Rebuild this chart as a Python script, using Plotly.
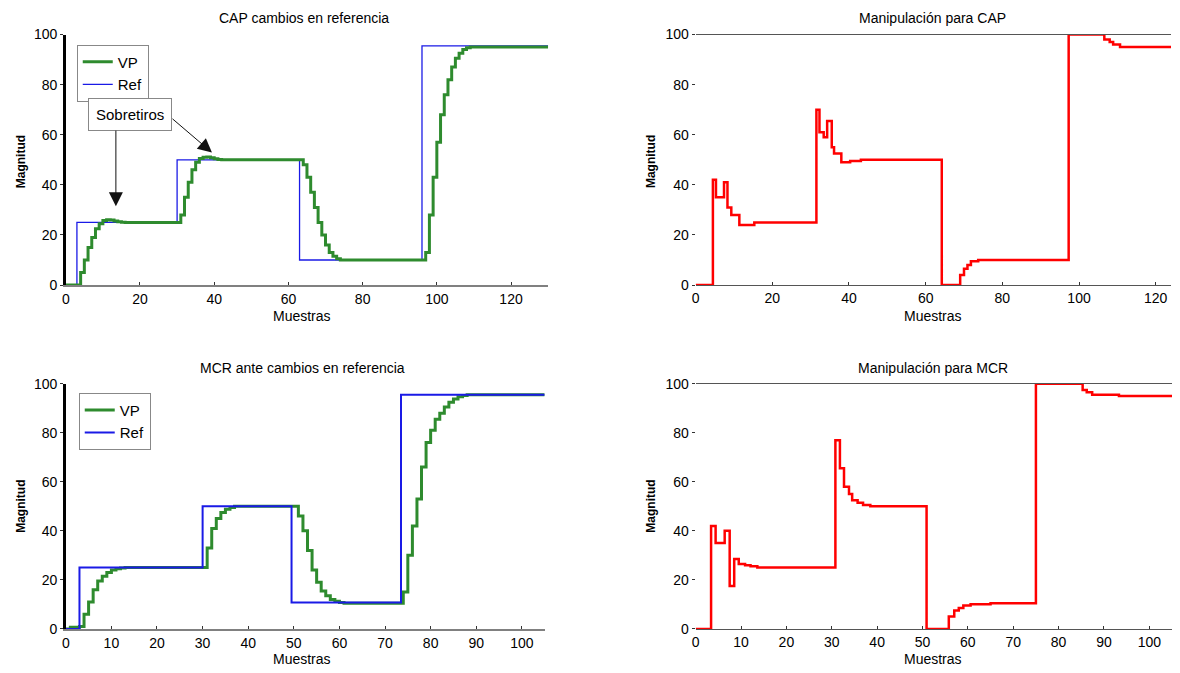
import plotly.graph_objects as go

# ---------------- data ----------------
# CAP: process variable (sample, value) change points
cap_vp_x = [0, 4, 5, 6, 7, 8, 9, 10, 11, 12, 13, 14, 15, 16, 31, 32, 33, 34, 35, 36, 37, 38, 39, 40, 41, 42,
            64, 65, 66, 67, 68, 69, 70, 71, 72, 73, 74, 97, 98, 99, 100, 101, 102, 103, 104, 105, 106, 107,
            108, 109, 130]
cap_vp_y = [0, 5, 10, 15, 19, 22.5, 24.5, 25.8, 26.1, 26, 25.6, 25.3, 25.1, 25, 28, 35, 41, 46, 49, 50.5, 51,
            51.1, 50.8, 50.4, 50.1, 50, 48, 43, 37, 31, 25, 20, 16, 13, 11.5, 10.5, 10, 13, 28, 43, 57, 68, 76,
            82, 87, 90.5, 92.5, 94, 94.7, 95, 95]
cap_ref_x = [0, 3, 30, 63, 96, 130]
cap_ref_y = [0, 25, 50, 10, 95.5, 95.5]

# CAP manipulated variable
cap_mv_x = [0, 4.5, 5.3, 7.4, 8.3, 9.3, 11.4, 15.3, 31.5, 32.3, 33.4, 34.3, 35.5, 36.1, 38, 40.3, 43.1,
            64.2, 69, 70, 70.9, 71.8, 73.7, 97.3, 106.6, 108, 108.9, 110.7, 124]
cap_mv_y = [0, 42, 35, 41, 31, 28, 24, 25, 70, 61, 59, 65.5, 55, 52.5, 49, 49.5, 50,
            0, 4, 6.5, 8, 9.5, 10, 100, 98, 97, 96, 95, 95]

# MCR: process variable
mcr_vp_x = [0, 1, 3, 4, 5, 6, 7, 8, 9, 10, 11, 12, 13, 31, 32, 33, 34, 35, 36, 37, 51, 52, 53, 54, 55, 56,
            57, 58, 59, 60, 61, 74, 75, 76, 77, 78, 79, 80, 81, 82, 83, 84, 85, 86, 87, 88, 105]
mcr_vp_y = [0, 0.7, 1, 6, 11, 16, 19.5, 21.5, 23, 24, 24.5, 24.8, 25, 33, 41, 45, 47.5, 48.8, 49.5, 50, 46,
            40, 32, 24, 19, 15.5, 13.5, 12, 11.3, 10.8, 10.5, 15, 30, 42, 53, 66, 76, 81, 85.5, 88, 90.5,
            92.5, 93.8, 94.7, 95.2, 95.5, 95.5]
mcr_ref_x = [0, 3, 30, 49.5, 73.5, 105]
mcr_ref_y = [0, 25, 50, 10.8, 95.5, 95.5]

# MCR manipulated variable
mcr_mv_x = [0, 3.4, 4.4, 6.4, 7.5, 8.5, 9.5, 10.9, 12.1, 13.6, 30.8, 31.8, 32.7, 33.8, 34.5, 35.7, 36.9,
            38.5, 50.9, 55.8, 57, 58, 59, 60.6, 65, 75, 85.3, 86.2, 87.4, 93.3, 105]
mcr_mv_y = [0, 42, 35, 40, 17.5, 28.5, 26.5, 26, 25.5, 25, 77, 65.5, 58, 55, 52.5, 51.5, 50.5,
            50, 0, 5, 7.5, 8.5, 9.5, 10, 10.5, 100, 97.5, 96.5, 95.5, 95, 95]

titles = ["CAP cambios en referencia", "Manipulación para CAP",
          "MCR ante cambios en referencia", "Manipulación para MCR"]
x_label = "Muestras"
y_label = "Magnitud"
annot_text = "Sobretiros"

# ---------------- figure ----------------
W, H = 1180, 673
FONT = "Liberation Sans, Arial, sans-serif"
GREEN = "#2e8b2e"
BLUE = "#1a1ae6"
RED = "#ff0000"

fig = go.Figure()

# top-left
fig.add_trace(go.Scatter(x=cap_ref_x, y=cap_ref_y, mode="lines", line=dict(color=BLUE, width=1.3, shape="hv"),
                         name="Ref", xaxis="x", yaxis="y", legend="legend", legendrank=2))
fig.add_trace(go.Scatter(x=cap_vp_x, y=cap_vp_y, mode="lines", line=dict(color=GREEN, width=3, shape="hv"),
                         name="VP", xaxis="x", yaxis="y", legend="legend", legendrank=1))
# top-right
fig.add_trace(go.Scatter(x=cap_mv_x, y=cap_mv_y, mode="lines", line=dict(color=RED, width=2.5, shape="hv"),
                         showlegend=False, xaxis="x2", yaxis="y2"))
# bottom-left
fig.add_trace(go.Scatter(x=mcr_vp_x, y=mcr_vp_y, mode="lines", line=dict(color=GREEN, width=3, shape="hv"),
                         name="VP", xaxis="x3", yaxis="y3", legend="legend2", legendrank=1))
fig.add_trace(go.Scatter(x=mcr_ref_x, y=mcr_ref_y, mode="lines", line=dict(color=BLUE, width=2, shape="hv"),
                         name="Ref", xaxis="x3", yaxis="y3", legend="legend2", legendrank=2))
# bottom-right
fig.add_trace(go.Scatter(x=mcr_mv_x, y=mcr_mv_y, mode="lines", line=dict(color=RED, width=2.5, shape="hv"),
                         showlegend=False, xaxis="x4", yaxis="y4"))

TLX = [62 / W, 546 / W]
TRX = [694 / W, 1171 / W]
BLX = [62 / W, 542.5 / W]
BRX = [694 / W, 1172 / W]
TY = [1 - 283.8 / H, 1 - 27.2 / H]
BY = [1 - 636 / H, 1 - 384.9 / H]

tickfont = dict(family=FONT, size=14, color="black")


def xax(domain, anchor, rng, dtick, left):
    d = dict(domain=domain, anchor=anchor, range=rng, dtick=dtick, tick0=0, showgrid=False, zeroline=False,
             ticks="inside", ticklen=3, tickcolor="#333", tickfont=tickfont, showline=True)
    if left:
        d.update(linecolor="#808080", linewidth=2)
    else:
        d.update(linecolor="#555", linewidth=1.3, mirror=True)
    return d


def yax(domain, anchor, left):
    d = dict(domain=domain, anchor=anchor, range=[0, 100], dtick=20, tick0=0, showgrid=False, zeroline=False,
             ticks="outside", ticklen=3, tickcolor="#333", tickfont=tickfont)
    if left:
        d.update(showline=True, linecolor="black", linewidth=2.5)
    else:
        d.update(showline=False)
    return d


annotations = []


def paper_text(text, px, py, size=14, angle=0):
    annotations.append(dict(text=text, x=px / W, y=1 - py / H, xref="paper", yref="paper",
                            showarrow=False, xanchor="center", yanchor="middle", textangle=angle,
                            font=dict(family=FONT, size=size, color="black")))


paper_text(titles[0], 301, 10)
paper_text(titles[1], 932, 10)
paper_text(titles[2], 300, 368.5)
paper_text(titles[3], 932, 368.5)
for px, py in [(299, 315.5), (932, 315.5), (299, 666.5), (932, 666.5)]:
    paper_text(x_label, px, py)
for px, py in [(17, 157), (649, 157), (17, 510), (649, 510)]:
    paper_text("<b>" + y_label + "</b>", px, py, size=12, angle=-90)

# Sobretiros box and arrows
annotations.append(dict(text=annot_text, x=17.4, y=68, xref="x", yref="y", showarrow=False,
                        bordercolor="#888", borderwidth=1, borderpad=7, bgcolor="white",
                        font=dict(family=FONT, size=15, color="black")))
annotations.append(dict(text="", x=13.5, y=31.5, xref="x", yref="y", showarrow=True, ax=0, ay=-77,
                        arrowhead=2, arrowsize=2.8, arrowwidth=1, arrowcolor="#111"))
annotations.append(dict(text="", x=39.4, y=52.9, xref="x", yref="y", showarrow=True, ax=-41, ay=-35,
                        arrowhead=2, arrowsize=2.8, arrowwidth=1, arrowcolor="#111"))

legend_common = dict(xanchor="left", yanchor="top", bgcolor="white", bordercolor="#888", borderwidth=1,
                     font=dict(family=FONT, size=15, color="black"), traceorder="normal",
                     tracegroupgap=0, itemwidth=30)

fig.update_layout(
    width=W, height=H, autosize=False,
    margin=dict(l=0, r=0, t=0, b=0),
    paper_bgcolor="white", plot_bgcolor="white",
    font=dict(family=FONT, size=14, color="black"),
    xaxis=xax(TLX, "y", [0, 130], 20, True),
    yaxis=yax(TY, "x", True),
    xaxis2=xax(TRX, "y2", [0, 124], 20, False),
    yaxis2=yax(TY, "x2", False),
    xaxis3=xax(BLX, "y3", [0, 105], 10, True),
    yaxis3=yax(BY, "x3", True),
    xaxis4=xax(BRX, "y4", [0, 105], 10, False),
    yaxis4=yax(BY, "x4", False),
    legend=dict(x=73 / W, y=1 - 37.5 / H, **legend_common),
    legend2=dict(x=75 / W, y=1 - 394 / H, **legend_common),
    annotations=annotations,
)

fig.write_html("out.html")
